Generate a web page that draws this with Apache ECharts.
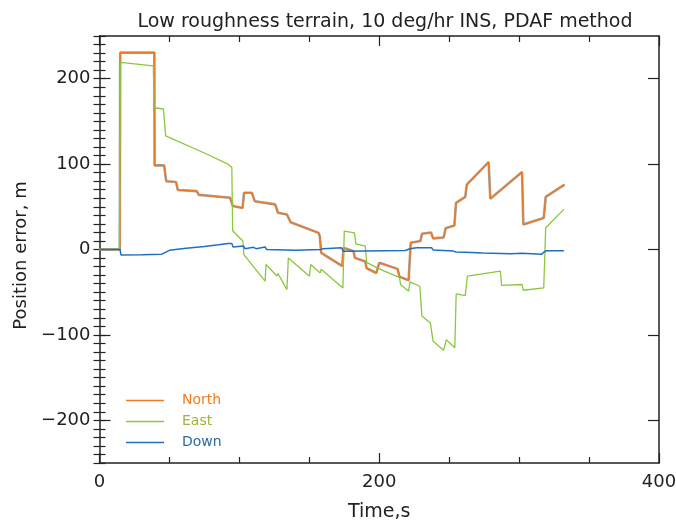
<!DOCTYPE html>
<html>
<head>
<meta charset="utf-8">
<script src="https://cdn.jsdelivr.net/npm/echarts@6/dist/echarts.min.js"></script>
<style>
  html, body { margin: 0; padding: 0; background: #fff; }
  #chart { width: 676px; height: 523px; }
</style>
</head>
<body>
<div id="chart"></div>
<script>
// time (s) and error (m)
const northT = [0, 14.5, 14.8, 39.2, 39.4, 46.2, 47.7, 54.7, 56, 69.5, 71, 93.4, 95.3, 102.3, 103.3, 108.9, 111, 125.6, 127.6, 134, 136.6, 156.6, 157.5, 158.5, 173.6, 174.4, 181.6, 182.6, 190, 191, 197.9, 200, 213.1, 214.5, 221, 222.5, 229.5, 230.5, 237, 238.5, 246, 247.5, 253.7, 254.9, 261.5, 262.6, 278.2, 279.4, 302.1, 303, 317.6, 319, 332.5]
const northV = [0, 0, 230.5, 230.5, 98.5, 98.5, 80, 79, 69.6, 68.4, 64, 60.6, 51, 48.5, 66.4, 66.4, 56.6, 52.8, 43, 41, 32, 19.5, 15.6, -3.9, -19.5, 2, -2, -9.8, -14, -22, -27.5, -15.6, -22.7, -32, -36, 8, 10, 18.5, 20, 13, 14, 25, 28, 54.7, 61.7, 76, 102.4, 59.4, 90.7, 29.3, 37, 61.7, 76]

const eastT = [0, 14.2, 15, 38.5, 39, 45.7, 47.3, 75, 92.2, 94.6, 95.2, 102.5, 103.2, 118.4, 119, 126.8, 127.5, 134, 135, 150.1, 151, 157.8, 158.5, 174, 175, 182.3, 183.3, 190, 191, 198.4, 214.5, 215.2, 221, 222, 229, 230.5, 236.5, 238.5, 246, 248, 250, 254, 255, 261.5, 263, 286.6, 287.5, 302, 303, 317.6, 319, 332]
const eastV = [0, 0, 219, 215, 166, 164.5, 133, 113, 99.6, 96, 22, 10, -6, -37, -17.6, -31, -28, -47, -10, -31.3, -17.6, -27.4, -23, -45, 21.5, 19.5, 6.5, 3.9, -15, -21.5, -33, -41, -48.8, -38, -43, -78, -86, -107.5, -118, -105.5, -109, -115, -52, -54, -31.3, -25.4, -42, -41, -47.7, -45, 25.4, 47]

const downT = [0, 14.7, 15.4, 30, 44.5, 50, 62, 75, 85, 92, 94.6, 95.5, 103, 104, 110, 112, 118.4, 119.5, 140, 158, 160, 173, 174.4, 218.6, 222, 226.5, 237.5, 238.5, 253, 255, 266, 274, 294, 302, 316, 319, 332]
const downV = [0, 0, -6.5, -6.2, -5.5, -1, 1.5, 3.5, 5.5, 7, 7, 3, 4, 1, 2.5, 1, 3, 0, -1, 0, 1, 2, -2, -1.2, 0.8, 2, 2, -0.5, -1.9, -3, -3.5, -4, -5, -4.5, -5.5, -1.6, -1.6]

const yMajor = [-200, -100, 0, 100, 200]

const pairs = (t, v) => t.map((x, i) => [x, v[i]])
const ink = '#222'
const font = 'DejaVu Sans'
const minus = v => (v < 0 ? '\u2212' + (-v) : '' + v)

const chart = echarts.init(document.getElementById('chart'))

const yBase = {
  type: 'value', min: -250, max: 250, interval: 50,
  splitLine: { show: false }
}
const xBase = {
  type: 'value', min: 0, max: 400, interval: 200,
  splitLine: { show: false },
  axisLine: { show: true, onZero: false, lineStyle: { color: ink, width: 1.5 } },
  axisTick: { show: true, inside: true, length: 10, lineStyle: { color: ink, width: 1.2 } },
  minorTick: { show: true, splitNumber: 4, length: 6, lineStyle: { color: ink, width: 1.2 } }
}

const option = {
  animation: false,
  textStyle: { fontFamily: font },
  title: {
    text: 'Low roughness terrain, 10 deg/hr INS, PDAF method',
    left: 380,
    top: 8,
    textAlign: 'center',
    textStyle: { fontFamily: font, fontSize: 19, fontWeight: 'normal', color: ink }
  },
  grid: { left: 99.5, right: 17, top: 36, bottom: 60, containLabel: false, outerBoundsMode: 'none' },
  legend: {
    orient: 'vertical',
    left: 126,
    top: 390,
    padding: 0,
    icon: 'rect',
    itemWidth: 38,
    itemHeight: 1.5,
    itemGap: 0,
    textStyle: { fontFamily: font, fontSize: 14, lineHeight: 21, padding: [0, 0, 0, 13] },
    data: [
      { name: 'North', textStyle: { color: '#f47b20' } },
      { name: 'East', textStyle: { color: '#9db43a' } },
      { name: 'Down', textStyle: { color: '#2e6aa8' } }
    ]
  },
  xAxis: [
    Object.assign({}, xBase, {
      position: 'bottom',
      name: 'Time,s',
      nameLocation: 'middle',
      nameGap: 40,
      nameTextStyle: { fontFamily: font, fontSize: 19, color: ink },
      axisLabel: { fontFamily: font, fontSize: 18, color: ink, margin: 10 }
    }),
    Object.assign({}, xBase, { position: 'top', axisLabel: { show: false } })
  ],
  yAxis: [
    Object.assign({}, yBase, {
      position: 'left',
      name: 'Position error, m',
      nameLocation: 'middle',
      nameGap: 68,
      nameTextStyle: { fontFamily: font, fontSize: 18, color: ink, padding: [0, 12, 0, 0] },
      axisLine: { show: true, onZero: false, lineStyle: { color: ink, width: 1.5 } },
      axisTick: { show: true, inside: true, length: 11, customValues: yMajor, lineStyle: { color: ink, width: 1.2 } },
      axisLabel: { fontFamily: font, fontSize: 18, color: ink, margin: 9, customValues: yMajor, formatter: minus }
    }),
    Object.assign({}, yBase, {
      position: 'left',
      axisLine: { show: false },
      axisLabel: { show: false },
      axisTick: { show: true, inside: true, length: 6, lineStyle: { color: ink, width: 1.2 } },
      minorTick: { show: true, splitNumber: 5, length: 6, lineStyle: { color: ink, width: 1.2 } }
    }),
    Object.assign({}, yBase, {
      position: 'right',
      axisLine: { show: true, onZero: false, lineStyle: { color: ink, width: 1.5 } },
      axisTick: { show: true, inside: true, length: 11, customValues: yMajor, lineStyle: { color: ink, width: 1.2 } },
      axisLabel: { show: false }
    }),
    Object.assign({}, yBase, {
      position: 'right',
      axisLine: { show: false },
      axisLabel: { show: false },
      axisTick: { show: true, inside: true, length: 6, lineStyle: { color: ink, width: 1.2 } },
      minorTick: { show: true, splitNumber: 5, length: 6, lineStyle: { color: ink, width: 1.2 } }
    })
  ],
  series: [
    {
      name: 'North (shadow)',
      type: 'line',
      symbol: 'none',
      silent: true,
      color: '#a3a3a3',
      lineStyle: { width: 2.6, color: '#a3a3a3' },
      data: pairs(northT, northV)
    },
    {
      name: 'North',
      type: 'line',
      symbol: 'none',
      color: '#ef7a26',
      lineStyle: { width: 1.5 },
      data: pairs(northT, northV)
    },
    {
      name: 'East',
      type: 'line',
      symbol: 'none',
      color: '#8cc63f',
      lineStyle: { width: 1.3 },
      data: pairs(eastT, eastV)
    },
    {
      name: 'Down',
      type: 'line',
      symbol: 'none',
      color: '#1f6fbf',
      lineStyle: { width: 1.5 },
      data: pairs(downT, downV)
    }
  ]
}

chart.setOption(option)
</script>
</body>
</html>
